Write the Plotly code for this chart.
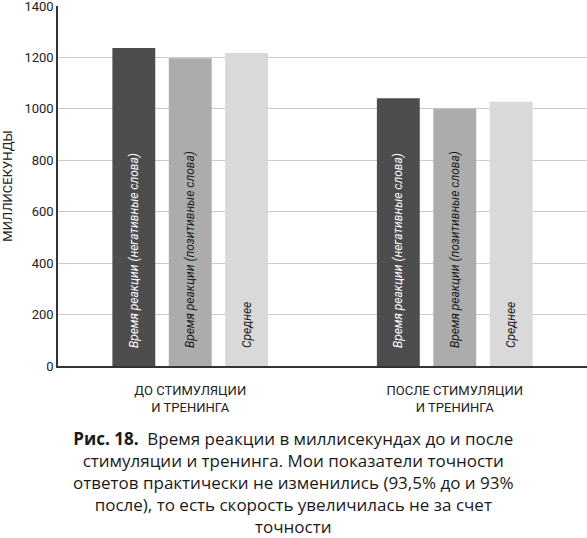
import plotly.graph_objects as go

# данные
groups = ["ДО СТИМУЛЯЦИИ<br>И ТРЕНИНГА", "ПОСЛЕ СТИМУЛЯЦИИ<br>И ТРЕНИНГА"]
series_names = [
    "Время реакции (негативные слова)",
    "Время реакции (позитивные слова)",
    "Среднее",
]
negative_ms = [1237, 1041]
positive_ms = [1197, 1000]
average_ms = [1217, 1028]
y_ticks = [0, 200, 400, 600, 800, 1000, 1200, 1400]

caption = (
    "<b>Рис. 18.</b>  Время реакции в миллисекундах до и после<br>"
    "стимуляции и тренинга. Мои показатели точности<br>"
    "ответов практически не изменились (93,5% до и 93%<br>"
    "после), то есть скорость увеличилась не за счет<br>"
    "точности"
)

bar_colors = ["#4d4d4d", "#acacac", "#d9d9d9"]
text_colors = ["#ffffff", "#1a1a1a", "#1a1a1a"]
font_main = "Roboto, sans-serif"

fig = go.Figure()
for name, vals, col, tcol in zip(series_names, [negative_ms, positive_ms, average_ms],
                                 bar_colors, text_colors):
    fig.add_trace(go.Bar(
        x=groups,
        y=vals,
        name=name,
        marker=dict(color=col, line=dict(width=0)),
        text=["\u00a0" * 5 + "<i>" + name + "</i>"] * len(vals),
        textposition="inside",
        insidetextanchor="start",
        textangle=-90,
        textfont=dict(family=font_main, size=12, color=tcol),
        hoverinfo="skip",
    ))

fig.update_layout(
    width=587,
    height=538,
    margin=dict(l=58, r=0, t=6, b=172),
    paper_bgcolor="white",
    plot_bgcolor="white",
    barmode="group",
    bargap=0.36,
    bargroupgap=0.24,
    showlegend=False,
    font=dict(family=font_main, color="#222222"),
)

fig.update_yaxes(
    range=[0, 1400],
    tickvals=y_ticks,
    automargin=False,
    ticklabeloverflow="allow",
    tickfont=dict(size=13, color="#222222"),
    showgrid=True,
    gridcolor="#cccccc",
    gridwidth=1,
    zeroline=False,
    showline=True,
    linecolor="#333333",
    linewidth=1.5,
    title=dict(text="МИЛЛИСЕКУНДЫ", font=dict(size=13, color="#222222"), standoff=9),
)

fig.update_xaxes(
    automargin=False,
    showline=True,
    linecolor="#333333",
    linewidth=1.5,
    ticks="outside",
    ticklen=12,
    tickcolor="rgba(0,0,0,0)",
    tickfont=dict(size=13, color="#222222"),
)

fig.add_annotation(
    text=caption,
    xref="paper", yref="paper",
    x=0.445, y=-0.164,
    xanchor="center", yanchor="top",
    showarrow=False,
    align="center",
    font=dict(family="Open Sans, Roboto, sans-serif", size=17, color="#1a1a1a"),
)

# убрать отступ страницы, чтобы график стоял в углу окна
fig.write_html(
    "out.html",
    config={"displayModeBar": False},
    post_script="document.body.style.margin='0';",
)
